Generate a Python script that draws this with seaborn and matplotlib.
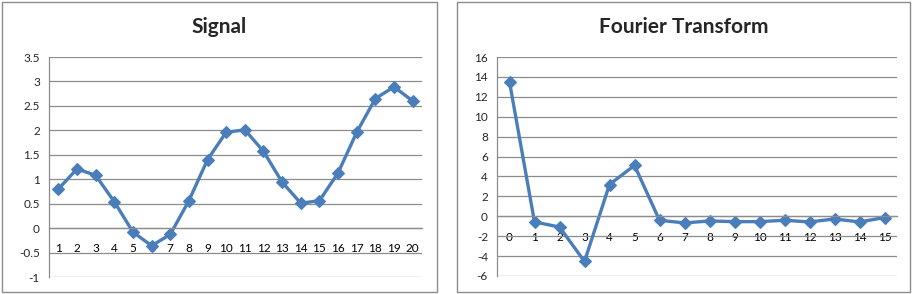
import numpy as np
import pandas as pd
import matplotlib
matplotlib.use("Agg")
import matplotlib.pyplot as plt
from matplotlib.patches import Rectangle
from matplotlib.ticker import FuncFormatter, FixedLocator
import seaborn as sns

# ---- data ----
signal_labels = [str(i) for i in range(1, 21)]
signal_values = [0.80, 1.21, 1.08, 0.54, -0.08, -0.36, -0.13, 0.56, 1.40, 1.96,
                 2.01, 1.57, 0.94, 0.51, 0.56, 1.13, 1.96, 2.65, 2.89, 2.60]
signal_yticks = [-1, -0.5, 0, 0.5, 1, 1.5, 2, 2.5, 3, 3.5]

fourier_labels = [str(i) for i in range(0, 16)]
fourier_values = [13.5, -0.57, -1.08, -4.54, 3.19, 5.11, -0.40, -0.67, -0.47, -0.54,
                  -0.54, -0.40, -0.57, -0.27, -0.57, -0.13]
fourier_yticks = [-6, -4, -2, 0, 2, 4, 6, 8, 10, 12, 14, 16]

titles = ["Signal", "Fourier Transform"]

# ---- style ----
sns.set_style("white")
plt.rcParams['font.family'] = ['Lato', 'DejaVu Sans']

LINE = "#4A7EBB"
GRID = "#8C8C8C"

W, H = 913, 294
fig = plt.figure(figsize=(W / 100, H / 100), dpi=100)


def px_axes(x0, y0, x1, y1):
    return fig.add_axes([x0 / W, 1 - y1 / H, (x1 - x0) / W, (y1 - y0) / H])


def draw(ax, labels, values, yticks, title, panel):
    n = len(values)
    df = pd.DataFrame({"pos": np.arange(n), "value": values})
    sns.lineplot(data=df, x="pos", y="value", ax=ax, color=LINE, linewidth=2.4,
                 marker="D", markersize=6, markeredgecolor=LINE, markeredgewidth=0.8)
    ax.set_xlim(-0.5, n - 0.5)
    ax.set_ylim(yticks[0], yticks[-1])
    ax.set_xlabel("")
    ax.set_ylabel("")

    ax.yaxis.set_major_locator(FixedLocator(yticks))
    ax.yaxis.set_major_formatter(FuncFormatter(lambda v, p: f"{v:g}"))
    ax.grid(axis="y", color=GRID, linewidth=0.9)
    ax.grid(axis="x", visible=False)
    ax.set_axisbelow(True)

    ax.set_xticks(np.arange(n))
    ax.set_xticklabels(labels)
    ax.set_xticks(np.arange(n + 1) - 0.5, minor=True)
    ax.tick_params(axis="x", which="major", length=0, pad=11, labelsize=8.5, colors="black")
    ax.tick_params(axis="x", which="minor", length=3.5, width=0.9, color=GRID, direction="out")
    ax.tick_params(axis="y", which="major", length=3.5, width=0.9, color=GRID, direction="out",
                   labelsize=8.5, pad=3)

    for s in ["top", "right"]:
        ax.spines[s].set_visible(False)
    ax.spines["left"].set_color(GRID)
    ax.spines["left"].set_linewidth(0.9)
    ax.spines["bottom"].set_position(("data", 0))
    ax.spines["bottom"].set_color(GRID)
    ax.spines["bottom"].set_linewidth(0.9)

    x0, y0, x1, y1 = panel
    fig.add_artist(Rectangle((x0 / W, 1 - y1 / H), (x1 - x0) / W, (y1 - y0) / H,
                             transform=fig.transFigure, fill=False,
                             edgecolor=GRID, linewidth=1.0))
    fig.text(((x0 + x1) / 2) / W, 1 - 27 / H, title, ha="center", va="center",
             fontsize=15, fontweight="bold")


ax1 = px_axes(49, 57, 422, 277)
draw(ax1, signal_labels, signal_values, signal_yticks, titles[0], (2, 2, 437, 292))

ax2 = px_axes(497, 57, 897, 276)
draw(ax2, fourier_labels, fourier_values, fourier_yticks, titles[1], (457, 2, 910, 292))

fig.savefig("out.png", dpi=100)
